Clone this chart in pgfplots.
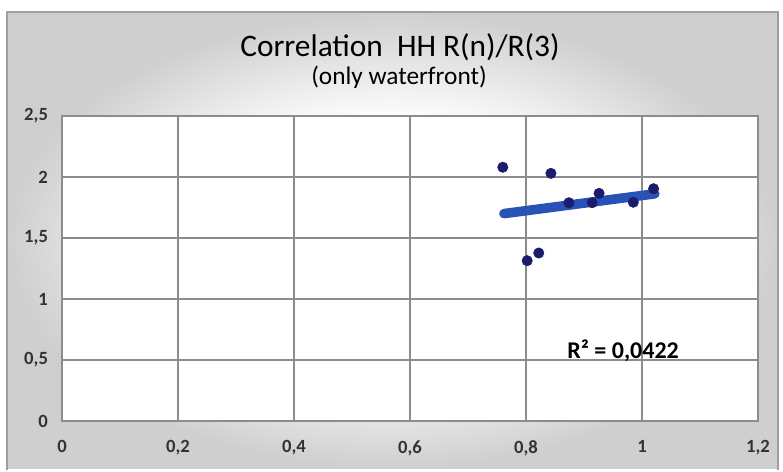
\documentclass[border=0pt]{standalone}
\usepackage{pgfplots}
\pgfplotsset{compat=1.18}
\usepackage{fontspec}
\setmainfont{Carlito}
\pgfdeclareradialshading{bgshade}{\pgfpoint{0bp}{0bp}}{color(0bp)=(white); color(13bp)=(white); color(25bp)=(gray!38); color(50bp)=(gray!38)}
\definecolor{gridgray}{RGB}{140,140,140}
\definecolor{dotnavy}{RGB}{28,28,108}
\definecolor{trendblue}{RGB}{40,82,182}
\begin{document}
\begin{tikzpicture}
\fill[white] (0pt,0pt) rectangle (587.25pt,351.75pt);
\shade[shading=bgshade] (5.25pt,0pt) rectangle (583.5pt,342.75pt);
\draw[gray!75, line width=1.2pt] (5.25pt,-1pt) -- (5.25pt,342.75pt) -- (583.5pt,342.75pt) -- (583.5pt,-1pt);
\node[anchor=base, inner sep=0pt, font=\fontsize{23.5}{28}\selectfont] at (300pt,309.5pt) {Correlation\ \ HH R(n)/R(3)};
\node[anchor=base, inner sep=0pt, font=\fontsize{19}{22}\selectfont] at (299.25pt,288pt) {(only waterfront)};
\begin{axis}[
  at={(46.5pt,36pt)}, anchor=south west, scale only axis,
  width=522pt, height=228.75pt,
  xmin=0, xmax=1.2, ymin=0, ymax=2.5,
  xtick={0,0.2,0.4,0.6,0.8,1,1.2},
  ytick={0,0.5,1,1.5,2,2.5},
  grid=major,
  grid style={gridgray, line width=1.1pt},
  axis line style={gridgray, line width=1.1pt},
  tick style={draw=none},
  axis background/.style={fill=white},
  /pgf/number format/.cd, use comma, fixed, assume math mode=true,
  /pgfplots/.cd,
  ticklabel style={font=\fontsize{14}{16}\selectfont\bfseries, text=black!80},
  xticklabel style={yshift=-11pt},
  yticklabel style={xshift=-7pt},
  clip=false,
]
\addplot[trendblue, line width=7.2pt, line cap=round] coordinates {(0.762,1.70) (1.022,1.862)};
\addplot[only marks, mark=*, mark size=3.9pt, dotnavy] coordinates {
(0.760,2.08) (0.843,2.03) (0.874,1.789) (0.914,1.789) (0.926,1.866)
(0.985,1.793) (1.020,1.904) (0.802,1.314) (0.822,1.377)};
\node[anchor=base west, inner sep=0pt, font=\fontsize{18}{20}\selectfont\bfseries] at (axis cs:0.871,0.51) {R² = 0,0422};
\end{axis}
\end{tikzpicture}
\end{document}
